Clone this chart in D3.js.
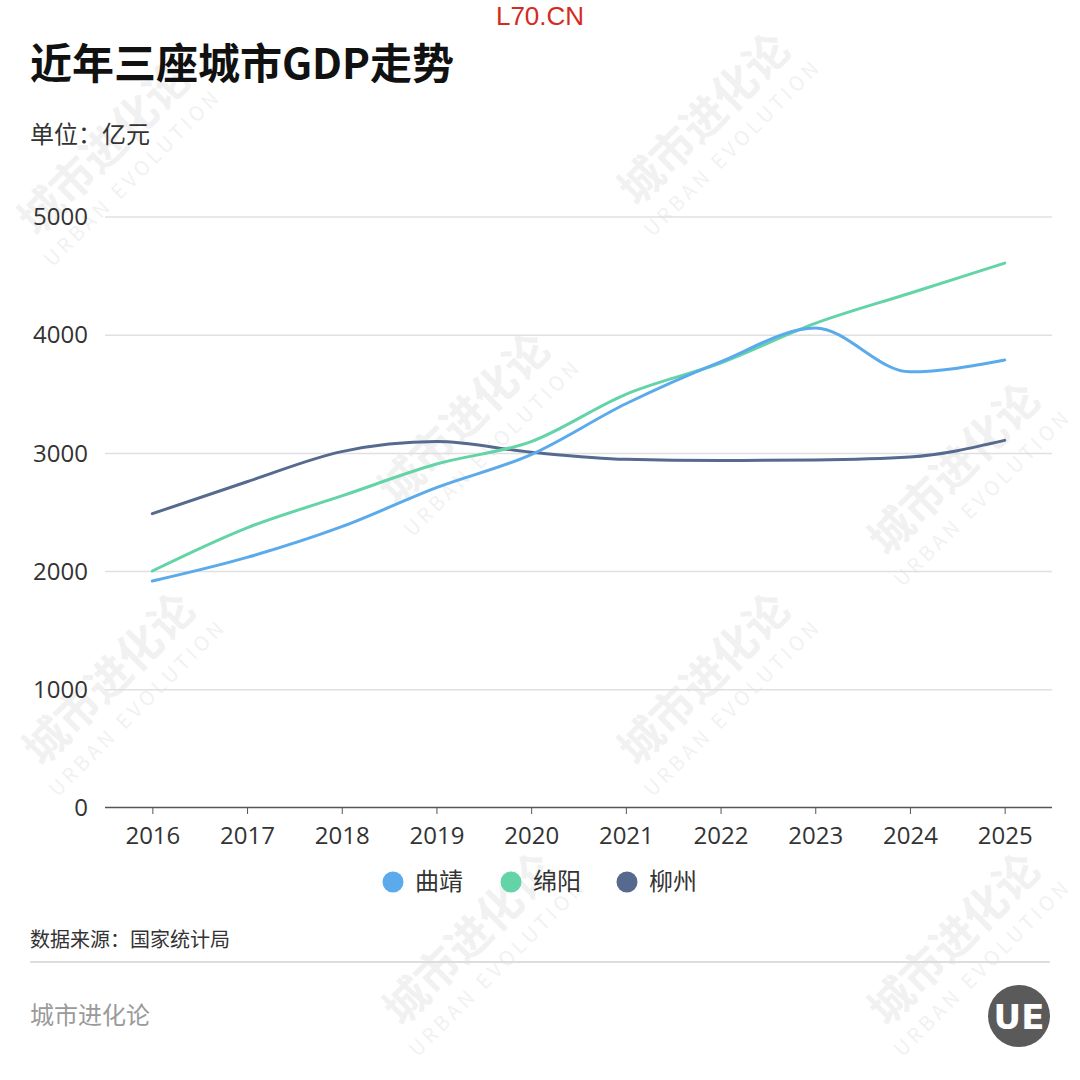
<!DOCTYPE html>
<html>
<head>
<meta charset="utf-8">
<script src="https://cdn.jsdelivr.net/npm/d3@7"></script>
<style>
  body { margin: 0; background: #fff; }
  svg { display: block; font-family: "Noto Sans CJK SC", "Noto Sans", sans-serif; }
</style>
</head>
<body>
<div id="chart"></div>
<script>
var years = ["2016", "2017", "2018", "2019", "2020", "2021", "2022", "2023", "2024", "2025"];
var qujing = [1920, 2120, 2380, 2710, 2990, 3420, 3775, 4060, 3690, 3790];
var mianyang = [2005, 2370, 2640, 2910, 3100, 3500, 3765, 4100, 4355, 4610];
var liuzhou = [2490, 2760, 3015, 3100, 3010, 2950, 2940, 2945, 2970, 3110];
var yTicks = [0, 1000, 2000, 3000, 4000, 5000];
var seriesNames = ["曲靖", "绵阳", "柳州"];
var seriesColors = ["#5aaaec", "#62d4a8", "#56698f"];

var width = 1080, height = 1080;
var svg = d3.select("#chart").append("svg")
    .attr("width", width)
    .attr("height", height);

// watermarks
var marks = [[115, 160], [715, 130], [475, 430], [965, 480], [120, 690], [715, 690], [480, 950], [965, 950]];
marks.forEach(function (m) {
    var g = svg.append("g")
        .attr("transform", "translate(" + m[0] + "," + m[1] + ") rotate(-45)")
        .attr("fill", "#000")
        .attr("opacity", 0.05);
    g.append("text")
        .attr("text-anchor", "middle")
        .attr("font-size", 44)
        .attr("font-weight", 700)
        .text("城市进化论");
    g.append("text")
        .attr("y", 32)
        .attr("text-anchor", "middle")
        .attr("font-size", 20)
        .attr("letter-spacing", 4)
        .text("URBAN EVOLUTION");
});

svg.append("text")
    .attr("x", 540).attr("y", 25)
    .attr("text-anchor", "middle")
    .attr("font-family", "Liberation Sans, Arial, sans-serif")
    .attr("font-size", 26)
    .attr("fill", "#d42a22")
    .text("L70.CN");

svg.append("text")
    .attr("x", 30).attr("y", 79)
    .attr("font-size", 42)
    .attr("font-weight", 700)
    .attr("fill", "#111")
    .text("近年三座城市GDP走势");

svg.append("text")
    .attr("x", 30).attr("y", 143)
    .attr("font-size", 24)
    .attr("fill", "#333")
    .text("单位：亿元");

var x = d3.scalePoint()
    .domain(years)
    .range([105, 1052])
    .padding(0.5);

var y = d3.scaleLinear()
    .domain([0, 5000])
    .range([808, 217]);

// grid
svg.append("g")
    .selectAll("line")
    .data(yTicks.slice(1))
    .enter()
    .append("line")
    .attr("x1", 105).attr("x2", 1052)
    .attr("y1", function (d) { return y(d); })
    .attr("y2", function (d) { return y(d); })
    .attr("stroke", "#e0e0e0")
    .attr("stroke-width", 1.5);

var yAxis = svg.append("g")
    .attr("transform", "translate(88,0)")
    .call(d3.axisLeft(y).tickValues(yTicks).tickFormat(d3.format("d")).tickSize(0).tickPadding(0));
yAxis.select(".domain").remove();
yAxis.selectAll("text")
    .attr("font-size", 24)
    .attr("fill", "#333")
    .attr("font-family", "Open Sans, Noto Sans, sans-serif");

var xAxis = svg.append("g")
    .attr("transform", "translate(0,807)")
    .call(d3.axisBottom(x).tickSize(7).tickPadding(13).tickSizeOuter(0));
xAxis.select(".domain")
    .attr("d", "M105,0.5H1052")
    .attr("stroke", "#555")
    .attr("stroke-width", 1.5);
xAxis.selectAll(".tick line").attr("stroke", "#555");
xAxis.selectAll("text")
    .attr("font-size", 24)
    .attr("fill", "#333")
    .attr("font-family", "Open Sans, Noto Sans, sans-serif");

var line = d3.line()
    .x(function (d, i) { return x(years[i]); })
    .y(function (d) { return y(d); })
    .curve(d3.curveMonotoneX);

[liuzhou, mianyang, qujing].forEach(function (s, k) {
    var idx = 2 - k;
    svg.append("path")
        .datum(s)
        .attr("d", line)
        .attr("fill", "none")
        .attr("stroke", seriesColors[idx])
        .attr("stroke-width", 3)
        .attr("stroke-linecap", "round");
});

// legend
var legendX = [393, 511, 627];
var legend = svg.append("g")
    .selectAll("g")
    .data(seriesNames)
    .enter()
    .append("g")
    .attr("transform", function (d, i) { return "translate(" + legendX[i] + ",882)"; });
legend.append("circle")
    .attr("r", 10.5)
    .attr("fill", function (d, i) { return seriesColors[i]; });
legend.append("text")
    .attr("x", 22)
    .attr("dy", "0.35em")
    .attr("font-size", 24)
    .attr("fill", "#333")
    .text(function (d) { return d; });

svg.append("text")
    .attr("x", 30).attr("y", 947)
    .attr("font-size", 20)
    .attr("fill", "#333")
    .text("数据来源：国家统计局");

svg.append("line")
    .attr("x1", 30).attr("x2", 1050)
    .attr("y1", 962).attr("y2", 962)
    .attr("stroke", "#ddd")
    .attr("stroke-width", 2);

svg.append("text")
    .attr("x", 30).attr("y", 1024)
    .attr("font-size", 24)
    .attr("fill", "#9a9a9a")
    .text("城市进化论");

var logo = svg.append("g").attr("transform", "translate(1019,1016)");
logo.append("circle").attr("r", 31).attr("fill", "#5a5a5a");
logo.append("text")
    .attr("text-anchor", "middle")
    .attr("dy", "0.38em")
    .attr("font-size", 34)
    .attr("font-weight", 700)
    .attr("fill", "#fff")
    .attr("font-family", "DejaVu Sans, sans-serif")
    .text("UE");
</script>
</body>
</html>
